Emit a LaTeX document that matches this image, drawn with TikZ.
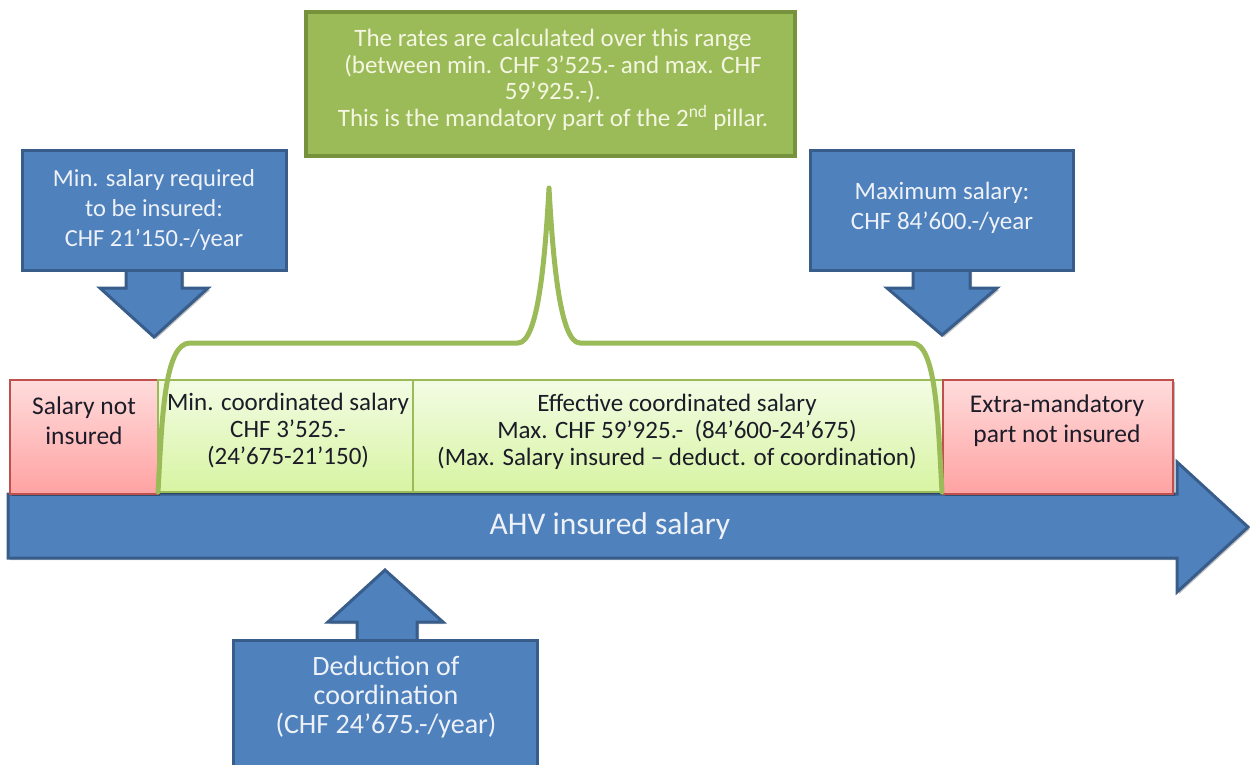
\documentclass[tikz,border=0pt]{standalone}
\usepackage{fontspec}
\setmainfont{Carlito}
\usetikzlibrary{shadows,calc}
\definecolor{bfill}{HTML}{4F81BD}
\definecolor{bline}{HTML}{385D8A}
\definecolor{gfill}{HTML}{9BBB59}
\definecolor{gline}{HTML}{76923C}
\definecolor{rline}{HTML}{C0504D}
\definecolor{rtop}{HTML}{FFDCDC}
\definecolor{rbot}{HTML}{FFA2A2}
\definecolor{gtop}{HTML}{F3FCE4}
\definecolor{gbot}{HTML}{D7F4A2}
\definecolor{wtext}{HTML}{EEF2F8}
\definecolor{ctext}{HTML}{F5F6E2}
\definecolor{dtext}{HTML}{1C1C28}
\tikzset{
  shad/.style={drop shadow={shadow xshift=2pt,shadow yshift=-2pt,opacity=0.25,fill=black}},
  bluebox/.style={draw=bline, fill=bfill, line width=3pt, inner sep=0pt, shad},
  bluetext/.style={text=wtext, align=center, inner sep=0pt},
  blockarrow/.style={draw=bline, fill=bfill, line width=3pt, line join=miter, shad},
  redbox/.style={draw=rline, line width=1.5pt, top color=rtop, bottom color=rbot, inner sep=0pt, shad},
  greenbox/.style={draw=gfill, line width=1.5pt, top color=gtop, bottom color=gbot, inner sep=0pt, shad},
  bartext/.style={text=dtext, align=center, inner sep=0pt, font=\fontsize{25}{27}\selectfont},
  topbox/.style={draw=gline, fill=gfill, line width=4pt, inner sep=0pt, shad},
  brace/.style={draw=gfill, line width=5pt, line cap=round, line join=round},
}
\begin{document}
\begin{tikzpicture}[x=1pt,y=-1pt]
\useasboundingbox (0,0) rectangle (1254,764);
\clip (0,0) rectangle (1254,764);

% big AHV arrow
\path[blockarrow] (8,494) -- (1177,494) -- (1177,462) -- (1248,527) -- (1177,592) -- (1177,558) -- (8,558) -- cycle;
\node[bluetext, font=\fontsize{31.5}{34}\selectfont] (ahv) at (610,526) {AHV insured salary};

% bar boxes
\node[redbox, minimum width=148pt, minimum height=114pt] (r1) at (84,437) {};
\node[greenbox, minimum width=255pt, minimum height=112pt] (g1) at (285.5,436) {};
\node[greenbox, minimum width=530pt, minimum height=112pt] (g2) at (678,436) {};
\node[redbox, minimum width=230pt, minimum height=114pt] (r2) at (1058,437) {};

\node[bartext, font=\fontsize{25.5}{30}\selectfont] (r1t) at (84,421) {Salary not\\insured};
\node[bartext] (g1t) at (288,431) {Min. coordinated salary\\CHF 3’525.-\\(24’675-21’150)};
\node[bartext] (g2t) at (677,432) {Effective coordinated salary\\Max. CHF 59’925.-\ \ (84’600-24’675)\\(Max. Salary insured – deduct. of coordination)};
\node[bartext, font=\fontsize{25.5}{30}\selectfont] (r2t) at (1057,421) {Extra-mandatory\\part not insured};

% brace
\coordinate (bl) at (158,492);
\coordinate (br) at (942,492);
\coordinate (bp) at (549,188);
\draw[brace] (bl) .. controls (162,420) and (164,343) .. (190,343) -- (518,343)
  .. controls (538,343) and (545,260) .. (bp)
  .. controls (553,260) and (560,343) .. (580,343) -- (912,343)
  .. controls (936,343) and (938,420) .. (br);

% top green box
\node[topbox, minimum width=489pt, minimum height=144pt] (top) at (550.5,84) {};
\node[bluetext, text=ctext, font=\fontsize{25}{26.5}\selectfont] (topt) at (553,80)
  {The rates are calculated over this range\\(between min. CHF 3’525.- and max. CHF\\59’925.-).\\This is the mandatory part of the 2\textsuperscript{nd} pillar.};

% left callout
\path[blockarrow] (126,268) -- (126,288) -- (100,288) -- (154,337) -- (208,288) -- (182,288) -- (182,268) -- cycle;
\node[bluebox, minimum width=264pt, minimum height=120pt] (minb) at (154,210) {};
\node[bluetext, font=\fontsize{24.5}{30}\selectfont] (minbt) at (154,210) {Min. salary required\\to be insured:\\CHF 21’150.-/year};

% right callout
\path[blockarrow] (913,268) -- (913,288) -- (887,288) -- (942,335) -- (997,288) -- (970,288) -- (970,268) -- cycle;
\node[bluebox, minimum width=263pt, minimum height=120pt] (maxb) at (941.5,210) {};
\node[bluetext, font=\fontsize{25}{30}\selectfont] (maxbt) at (942,208) {Maximum salary:\\CHF 84’600.-/year};

% bottom callout
\path[blockarrow] (357,642) -- (357,622) -- (328,622) -- (385,570) -- (443,622) -- (417,622) -- (417,642) -- cycle;
\node[bluebox, minimum width=304pt, minimum height=140pt] (dedb) at (385,710) {};
\node[bluetext, font=\fontsize{28}{29}\selectfont] (dedbt) at (386,697) {Deduction of\\coordination\\(CHF 24’675.-/year)};
\end{tikzpicture}
\end{document}
